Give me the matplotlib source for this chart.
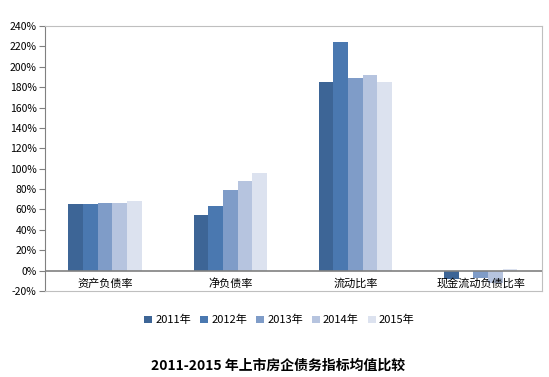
import matplotlib.pyplot as plt
import numpy as np

plt.rcParams['font.family'] = ['Noto Sans CJK SC', 'DejaVu Sans']

# data
categories = ['资产负债率', '净负债率', '流动比率', '现金流动负债比率']
years = ['2011年', '2012年', '2013年', '2014年', '2015年']
v2011 = [65, 55, 185, -8]
v2012 = [65, 63, 224, 0]
v2013 = [66, 79, 189, -7]
v2014 = [66, 88, 192, -12]
v2015 = [68, 96, 185, 2]
values = [v2011, v2012, v2013, v2014, v2015]
colors = ['#3D6596', '#4A78B0', '#7F9CC8', '#B6C4DF', '#DCE2EF']
yticks = list(range(-20, 241, 20))

fig = plt.figure(figsize=(5.49, 3.77), dpi=100)
ax = fig.add_axes([0.082, 0.228, 0.905, 0.703])

x = np.arange(len(categories))
w = 0.117
for i, (vals, c) in enumerate(zip(values, colors)):
    ax.bar(x + (i - 2) * w, vals, w, color=c, label=years[i], zorder=2)

ax.set_xlim(-0.48, 3.49)
ax.set_ylim(-20, 240)
ax.set_yticks(yticks)
ax.set_yticklabels([f'{t}%' for t in yticks], fontsize=7.5)
ax.set_xticks([])
ax.axhline(0, color='#808080', lw=1.2, zorder=3)

for s in ['top', 'right', 'bottom']:
    ax.spines[s].set_color('#BFBFBF')
ax.spines['left'].set_color('#808080')
ax.tick_params(axis='y', length=4, color='#808080', pad=2)

for xi, name in zip(x, categories):
    ax.text(xi, -12.5, name, ha='center', va='center', fontsize=8, zorder=4)

ax.legend(loc='center', bbox_to_anchor=(0.472, -0.11), ncol=5, frameon=False,
          fontsize=8, handlelength=0.7, handleheight=0.7, handletextpad=0.3,
          columnspacing=0.8)

fig.text(0.507, 0.029, '2011-2015 年上市房企债务指标均值比较', ha='center',
         va='center', fontsize=10, fontweight='bold')

fig.savefig('out.png', dpi=100)
